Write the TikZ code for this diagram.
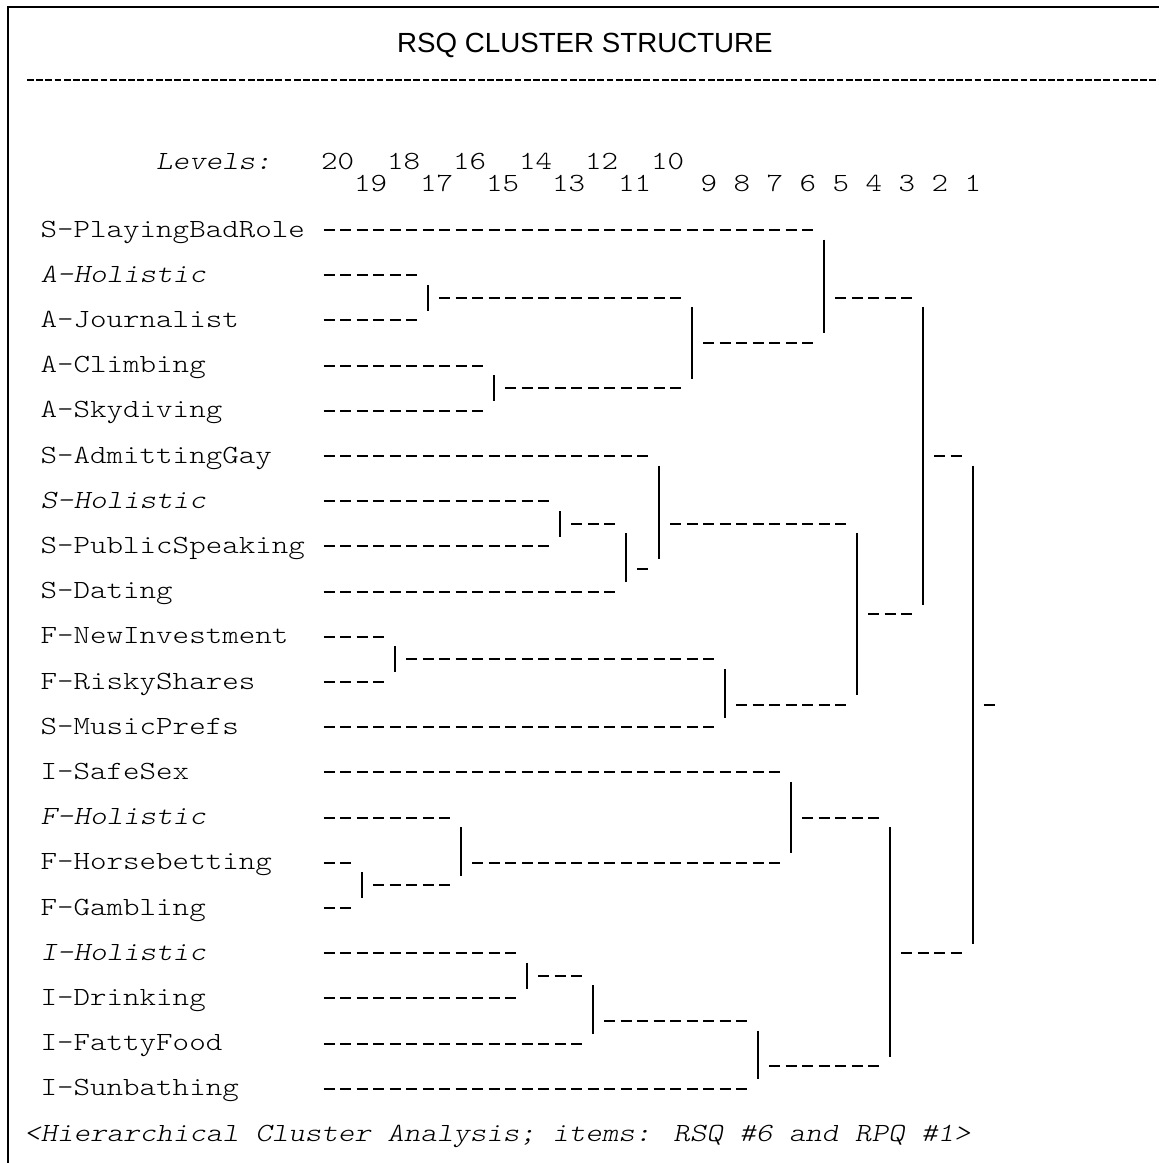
\documentclass[tikz,border=0pt]{standalone}
\usepackage{fontspec}
\usepackage{tikz}
\newfontfamily\courfont{Latin Modern Mono Light}[FakeStretch=1.2]
\newfontfamily\courfontit{Latin Modern Mono Light}[FakeStretch=1.2,FakeSlant=0.2]
\newfontfamily\arialfont{Liberation Sans}

\begin{document}
\begin{tikzpicture}[x=1pt,y=1pt]
	\tikzstyle{every node}+=[inner sep=0pt]
	\tikzstyle{lbl}=[anchor=west,font=\courfont\fontsize{26.2}{30}\selectfont,text height=21pt,text depth=7pt]
	\tikzstyle{lbli}=[lbl,font=\courfontit\fontsize{26.2}{30}\selectfont]
	\tikzstyle{hdash}=[black,line width=2pt,dash pattern=on 11pt off 5.5pt,shorten >=11.25pt]
	\tikzstyle{vbar}=[black,line width=1.8pt,shorten <=9.6pt,shorten >=9.6pt]
	\useasboundingbox (0,0) rectangle (1159,-1163);
	\fill [white] (0,0) rectangle (1159,-1163);
	\clip (0,0) rectangle (1159,-1163);
	\draw [black,line width=2.5pt] (8,-1200) -- (8,-7) -- (1200,-7);
	\draw (585,-52) node [anchor=base,font=\arialfont\fontsize{27.7}{33}\selectfont] (title) {RSQ CLUSTER STRUCTURE};
	\draw [black,line width=2.3pt,dash pattern=on 6.7pt off 2.5pt] (27,-80) -- (1159,-80);
	\draw (156,-162.2) node [lbli] (levels) {Levels:};
	\draw (321,-162.2) node [lbl] (l20) {20};
	\draw (354,-184.8) node [lbl] (l19) {19};
	\draw (387,-162.2) node [lbl] (l18) {18};
	\draw (420,-184.8) node [lbl] (l17) {17};
	\draw (453,-162.2) node [lbl] (l16) {16};
	\draw (486,-184.8) node [lbl] (l15) {15};
	\draw (519,-162.2) node [lbl] (l14) {14};
	\draw (552,-184.8) node [lbl] (l13) {13};
	\draw (585,-162.2) node [lbl] (l12) {12};
	\draw (618,-184.8) node [lbl] (l11) {11};
	\draw (651,-162.2) node [lbl] (l10) {10};
	\draw (700.5,-184.8) node [lbl] (l9) {9};
	\draw (733.5,-184.8) node [lbl] (l8) {8};
	\draw (766.5,-184.8) node [lbl] (l7) {7};
	\draw (799.5,-184.8) node [lbl] (l6) {6};
	\draw (832.5,-184.8) node [lbl] (l5) {5};
	\draw (865.5,-184.8) node [lbl] (l4) {4};
	\draw (898.5,-184.8) node [lbl] (l3) {3};
	\draw (931.5,-184.8) node [lbl] (l2) {2};
	\draw (964.5,-184.8) node [lbl] (l1) {1};
	\draw (40.5,-230) node [lbl] (spbr) {S-PlayingBadRole};
	\draw (40.5,-275.2) node [lbli] (ahol) {A-Holistic};
	\draw (40.5,-320.4) node [lbl] (ajou) {A-Journalist};
	\draw (40.5,-365.6) node [lbl] (aclm) {A-Climbing};
	\draw (40.5,-410.8) node [lbl] (asky) {A-Skydiving};
	\draw (40.5,-456) node [lbl] (sgay) {S-AdmittingGay};
	\draw (40.5,-501.2) node [lbli] (shol) {S-Holistic};
	\draw (40.5,-546.4) node [lbl] (spub) {S-PublicSpeaking};
	\draw (40.5,-591.6) node [lbl] (sdat) {S-Dating};
	\draw (40.5,-636.8) node [lbl] (finv) {F-NewInvestment};
	\draw (40.5,-682) node [lbl] (frsk) {F-RiskyShares};
	\draw (40.5,-727.2) node [lbl] (smus) {S-MusicPrefs};
	\draw (40.5,-772.4) node [lbl] (isfs) {I-SafeSex};
	\draw (40.5,-817.6) node [lbli] (fhol) {F-Holistic};
	\draw (40.5,-862.8) node [lbl] (fhrs) {F-Horsebetting};
	\draw (40.5,-908) node [lbl] (fgam) {F-Gambling};
	\draw (40.5,-953.2) node [lbli] (ihol) {I-Holistic};
	\draw (40.5,-998.4) node [lbl] (idrk) {I-Drinking};
	\draw (40.5,-1043.6) node [lbl] (ifat) {I-FattyFood};
	\draw (40.5,-1088.8) node [lbl] (isun) {I-Sunbathing};
	\draw (24,-1134) node [lbli] (foot) {<Hierarchical Cluster Analysis; items: RSQ \#6 and RPQ \#1>};
	\coordinate (c18) at (323.5,0);
	\coordinate (j24) at (428.25,-297.8);
	\coordinate (j28) at (494.25,-388.2);
	\coordinate (j40) at (692.25,-343);
	\coordinate (j48) at (824.25,-297.8);
	\coordinate (j32) at (560.25,-523.8);
	\coordinate (j36) at (626.25,-569);
	\coordinate (j38) at (659.25,-523.8);
	\coordinate (j22) at (395.25,-659.4);
	\coordinate (j42) at (725.25,-704.6);
	\coordinate (j50) at (857.25,-614.2);
	\coordinate (j54) at (923.25,-456);
	\coordinate (j20) at (362.25,-885.4);
	\coordinate (j26) at (461.25,-862.8);
	\coordinate (j46) at (791.25,-817.6);
	\coordinate (j30) at (527.25,-975.8);
	\coordinate (j34) at (593.25,-1021);
	\coordinate (j44) at (758.25,-1066.2);
	\coordinate (j52) at (890.25,-953.2);
	\coordinate (j57) at (972.75,-704.6);
	\coordinate (rt) at (1005.75,-704.6);
	\draw [hdash] (c18 |- spbr) -- (j48 |- spbr);
	\draw [hdash] (c18 |- ahol) -- (j24 |- ahol);
	\draw [hdash] (c18 |- ajou) -- (j24 |- ajou);
	\draw [hdash] (c18 |- aclm) -- (j28 |- aclm);
	\draw [hdash] (c18 |- asky) -- (j28 |- asky);
	\draw [hdash] (c18 |- sgay) -- (j38 |- sgay);
	\draw [hdash] (c18 |- shol) -- (j32 |- shol);
	\draw [hdash] (c18 |- spub) -- (j32 |- spub);
	\draw [hdash] (c18 |- sdat) -- (j36 |- sdat);
	\draw [hdash] (c18 |- finv) -- (j22 |- finv);
	\draw [hdash] (c18 |- frsk) -- (j22 |- frsk);
	\draw [hdash] (c18 |- smus) -- (j42 |- smus);
	\draw [hdash] (c18 |- isfs) -- (j46 |- isfs);
	\draw [hdash] (c18 |- fhol) -- (j26 |- fhol);
	\draw [hdash] (c18 |- fhrs) -- (j20 |- fhrs);
	\draw [hdash] (c18 |- fgam) -- (j20 |- fgam);
	\draw [hdash] (c18 |- ihol) -- (j30 |- ihol);
	\draw [hdash] (c18 |- idrk) -- (j30 |- idrk);
	\draw [hdash] (c18 |- ifat) -- (j34 |- ifat);
	\draw [hdash] (c18 |- isun) -- (j44 |- isun);
	\draw [vbar] (j24 |- ahol) -- (j24 |- ajou);
	\draw [vbar] (j28 |- aclm) -- (j28 |- asky);
	\draw [vbar] (j40 |- j24) -- (j40 |- j28);
	\draw [vbar] (j48 |- spbr) -- (j48 |- j40);
	\draw [vbar] (j32 |- shol) -- (j32 |- spub);
	\draw [vbar] (j36 |- j32) -- (j36 |- sdat);
	\draw [vbar] (j38 |- sgay) -- (j38 |- j36);
	\draw [vbar] (j22 |- finv) -- (j22 |- frsk);
	\draw [vbar] (j42 |- j22) -- (j42 |- smus);
	\draw [vbar] (j50 |- j38) -- (j50 |- j42);
	\draw [vbar] (j54 |- j48) -- (j54 |- j50);
	\draw [vbar] (j20 |- fhrs) -- (j20 |- fgam);
	\draw [vbar] (j26 |- fhol) -- (j26 |- j20);
	\draw [vbar] (j46 |- isfs) -- (j46 |- j26);
	\draw [vbar] (j30 |- ihol) -- (j30 |- idrk);
	\draw [vbar] (j34 |- j30) -- (j34 |- ifat);
	\draw [vbar] (j44 |- j34) -- (j44 |- isun);
	\draw [vbar] (j52 |- j46) -- (j52 |- j44);
	\draw [vbar] (j57 |- j54) -- (j57 |- j52);
	\draw [hdash,shorten <=10.75pt] (j24) -- (j40 |- j24);
	\draw [hdash,shorten <=10.75pt] (j28) -- (j40 |- j28);
	\draw [hdash,shorten <=10.75pt] (j40) -- (j48 |- j40);
	\draw [hdash,shorten <=10.75pt] (j48) -- (j54 |- j48);
	\draw [hdash,shorten <=10.75pt] (j32) -- (j36 |- j32);
	\draw [hdash,shorten <=10.75pt] (j36) -- (j38 |- j36);
	\draw [hdash,shorten <=10.75pt] (j38) -- (j50 |- j38);
	\draw [hdash,shorten <=10.75pt] (j22) -- (j42 |- j22);
	\draw [hdash,shorten <=10.75pt] (j42) -- (j50 |- j42);
	\draw [hdash,shorten <=10.75pt] (j50) -- (j54 |- j50);
	\draw [hdash,shorten <=10.75pt] (j54) -- (j57 |- j54);
	\draw [hdash,shorten <=10.75pt] (j20) -- (j26 |- j20);
	\draw [hdash,shorten <=10.75pt] (j26) -- (j46 |- j26);
	\draw [hdash,shorten <=10.75pt] (j46) -- (j52 |- j46);
	\draw [hdash,shorten <=10.75pt] (j30) -- (j34 |- j30);
	\draw [hdash,shorten <=10.75pt] (j34) -- (j44 |- j34);
	\draw [hdash,shorten <=10.75pt] (j44) -- (j52 |- j44);
	\draw [hdash,shorten <=10.75pt] (j52) -- (j57 |- j52);
	\draw [hdash,shorten <=10.75pt] (j57) -- (rt);
\end{tikzpicture}
\end{document}
